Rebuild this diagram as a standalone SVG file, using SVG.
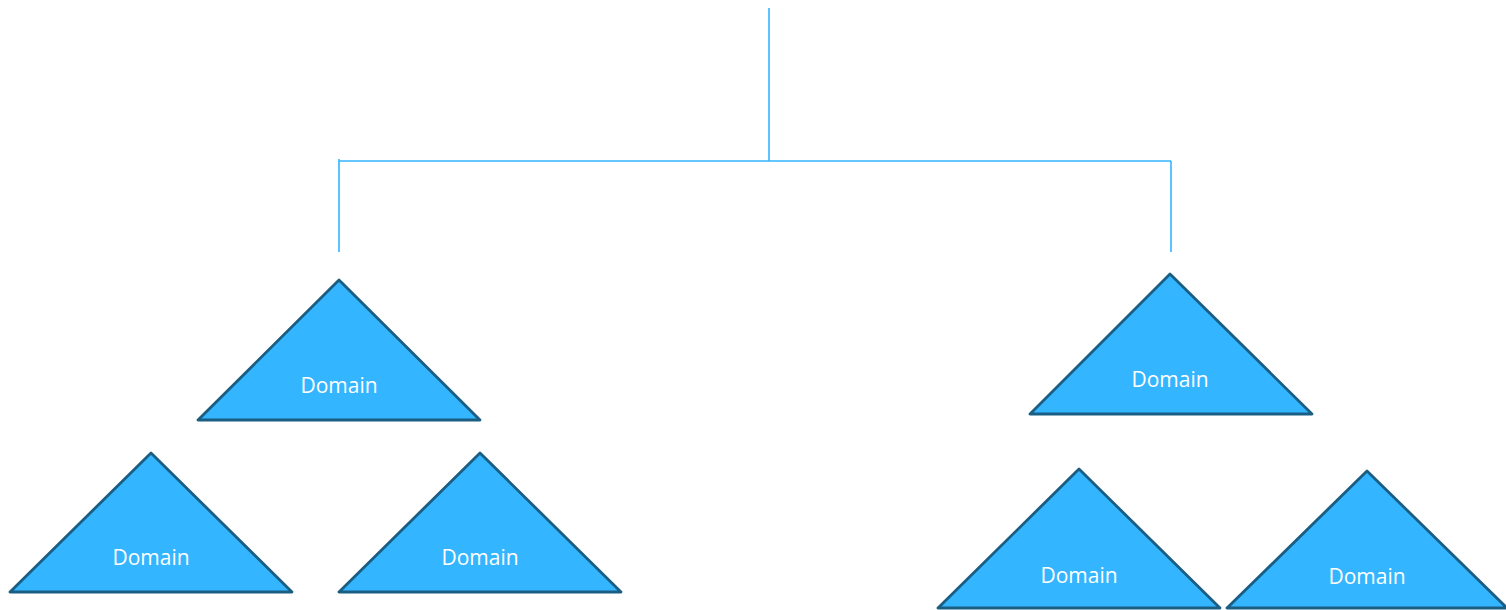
<svg xmlns="http://www.w3.org/2000/svg" width="1506" height="610" viewBox="0 0 1506 610">
  <style>
    .link { stroke: #33b5ff; stroke-width: 1.6; fill: none; }
    .tri { fill: #33b5ff; stroke: #1b5e83; stroke-width: 2.8; stroke-linejoin: round; }
    .label { font-family: "Open Sans", "Noto Sans", sans-serif; font-size: 21px; fill: #ffffff; text-anchor: middle; }
  </style>
  <rect width="1506" height="610" fill="#ffffff"/>
  <g id="connectors">
    <line class="link" x1="769" y1="8" x2="769" y2="161"/>
    <line class="link" x1="339" y1="161" x2="1171" y2="161"/>
    <line class="link" x1="339" y1="159" x2="339" y2="252"/>
    <line class="link" x1="1171" y1="161" x2="1171" y2="252"/>
  </g>
  <g id="domain-left">
    <polygon class="tri" points="339,280 198,420 480,420"/>
    <text class="label" x="339" y="393">Domain</text>
  </g>
  <g id="domain-right">
    <polygon class="tri" points="1170,274 1030,414 1312,414"/>
    <text class="label" x="1170" y="387">Domain</text>
  </g>
  <g id="domain-left-a">
    <polygon class="tri" points="151,453 10,592 292,592"/>
    <text class="label" x="151" y="565">Domain</text>
  </g>
  <g id="domain-left-b">
    <polygon class="tri" points="480,453 339,592 621,592"/>
    <text class="label" x="480" y="565">Domain</text>
  </g>
  <g id="domain-right-a">
    <polygon class="tri" points="1079,469 938,608 1220,608"/>
    <text class="label" x="1079" y="583">Domain</text>
  </g>
  <g id="domain-right-b">
    <polygon class="tri" points="1367,471 1227,608 1507,608"/>
    <text class="label" x="1367" y="584">Domain</text>
  </g>
</svg>
